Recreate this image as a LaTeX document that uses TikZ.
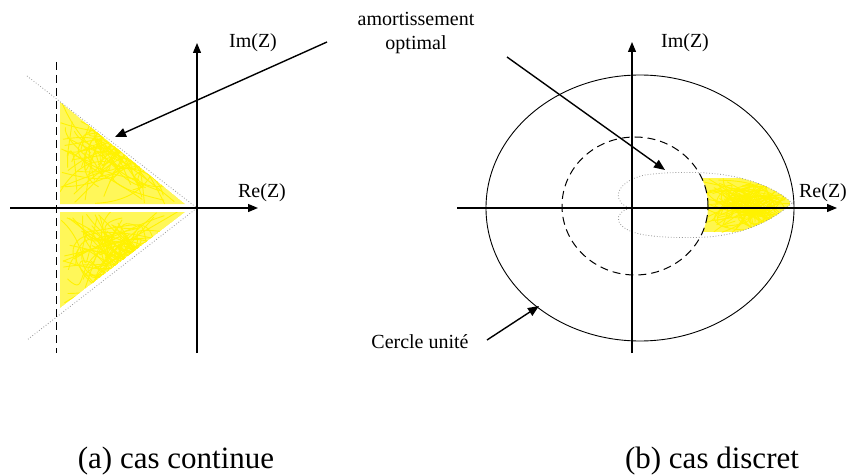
\documentclass[tikz,border=0pt]{standalone}
\usepackage{fontspec}
\setmainfont{Liberation Serif}
\usepackage{tikz}
\usetikzlibrary{arrows.meta,positioning,calc}
\tikzset{
  axe/.style={-{Triangle[length=10pt,width=8pt]}, line width=1.2pt},
  fleche/.style={-{Triangle[length=11pt,width=9pt]}, line width=1.4pt},
  tiret/.style={dash pattern=on 8pt off 5pt, line width=1pt},
  pointille/.style={gray!80, dotted, line width=0.8pt},
  lbl/.style={font=\fontsize{20}{23}\selectfont, inner sep=0pt, align=center},
  legende/.style={font=\fontsize{31}{36}\selectfont, inner sep=0pt, anchor=base},
  gribou/.style={yellow, line width=0.9pt}
}
% lobe d'amortissement (cas discret)
\newcommand{\lobe}{(632,208) .. controls (612,205) and (612,182) .. (645,175)
  .. controls (665,172) and (690,172) .. (707,173)
  .. controls (750,176) and (778,190) .. (792,203)
  .. controls (778,216) and (750,234) .. (707,237)
  .. controls (690,238) and (665,238) .. (645,235)
  .. controls (612,230) and (612,211) .. (632,208) -- cycle}
% gribouillis jaune dans une boite xmin xmax ymin ymax
\newcommand{\gribouillis}[4]{%
  \foreach \i in {1,...,70}{
    \pgfmathsetmacro\xa{#1+(#2-#1)*rnd}\pgfmathsetmacro\ya{#3+(#4-#3)*rnd}
    \pgfmathsetmacro\xb{#1+(#2-#1)*rnd}\pgfmathsetmacro\yb{#3+(#4-#3)*rnd}
    \pgfmathsetmacro\xc{#1+(#2-#1)*rnd}\pgfmathsetmacro\yc{#3+(#4-#3)*rnd}
    \pgfmathsetmacro\xd{#1+(#2-#1)*rnd}\pgfmathsetmacro\yd{#3+(#4-#3)*rnd}
    \draw[gribou] (\xa,\ya) .. controls (\xb,\yb) and (\xc,\yc) .. (\xd,\yd);
  }}

\begin{document}
\begin{tikzpicture}[x=1pt,y=-1pt]
  \useasboundingbox[fill=white] (0,0) rectangle (849,476);
  \pgfmathsetseed{11}

  % (a) cas continue
  \coordinate (o1) at (197,208);
  \begin{scope}
    \clip (60,102) -- (185,204) -- (60,204) -- cycle;
    \fill[yellow!65] (60,102) -- (185,204) -- (60,204) -- cycle;
    \gribouillis{60}{185}{100}{205}
  \end{scope}
  \begin{scope}
    \clip (60,212) -- (185,212) -- (60,308) -- cycle;
    \fill[yellow!65] (60,212) -- (185,212) -- (60,308) -- cycle;
    \gribouillis{60}{185}{211}{308}
  \end{scope}
  \coordinate (d1) at (27,76);
  \coordinate (d2) at (27,340);
  \draw[pointille] (d1) -- (o1) -- (d2);
  \coordinate (t1) at (56,62);
  \coordinate (t2) at (56,353);
  \draw[tiret] (t1) -- (t2);
  \coordinate (re1a) at (10,208);
  \coordinate (re1b) at (258,208);
  \coordinate (im1a) at (197,353);
  \coordinate (im1b) at (197,43);
  \draw[axe] (re1a) -- (re1b);
  \draw[axe] (im1a) -- (im1b);
  \node[lbl] (im1) at (253,43) {Im(Z)};
  \node[lbl] (re1) at (262,193) {Re(Z)};

  % (b) cas discret
  \coordinate (o2) at (632,208);
  \begin{scope}
    \clip \lobe;
    \begin{scope}[even odd rule]
      \clip (690,150) rectangle (800,260) (635,206) ellipse [x radius=73pt, y radius=69pt];
      \fill[yellow!70] (700,178) rectangle (790,232);
      \gribouillis{700}{792}{176}{234}
    \end{scope}
  \end{scope}
  \draw[pointille] \lobe;
  \draw[line width=0.9pt] (640,208) ellipse [x radius=154pt, y radius=133pt];
  \draw[tiret] (635,206) ellipse [x radius=73pt, y radius=69pt];
  \coordinate (re2a) at (457,208);
  \coordinate (re2b) at (837,208);
  \coordinate (im2a) at (632,353);
  \coordinate (im2b) at (632,42);
  \draw[axe] (re2a) -- (re2b);
  \draw[axe] (im2a) -- (im2b);
  \node[lbl] (im2) at (685,43) {Im(Z)};
  \node[lbl] (re2) at (823,193) {Re(Z)};

  % annotations
  \node[lbl] (amort) at (416,33) {amortissement\\[1pt]optimal};
  \coordinate (a1) at (327,42);
  \coordinate (a2) at (115,137);
  \coordinate (b1) at (507,57);
  \coordinate (b2) at (665,170);
  \draw[fleche] (a1) -- (a2);
  \draw[fleche] (b1) -- (b2);
  \node[lbl] (cercle) at (420,342) {Cercle unité};
  \coordinate (c1) at (487,340);
  \coordinate (c2) at (539,306);
  \draw[fleche] (c1) -- (c2);

  \node[legende] (capa) at (176,468) {(a) cas continue};
  \node[legende] (capb) at (712,468) {(b) cas discret};
\end{tikzpicture}
\end{document}
